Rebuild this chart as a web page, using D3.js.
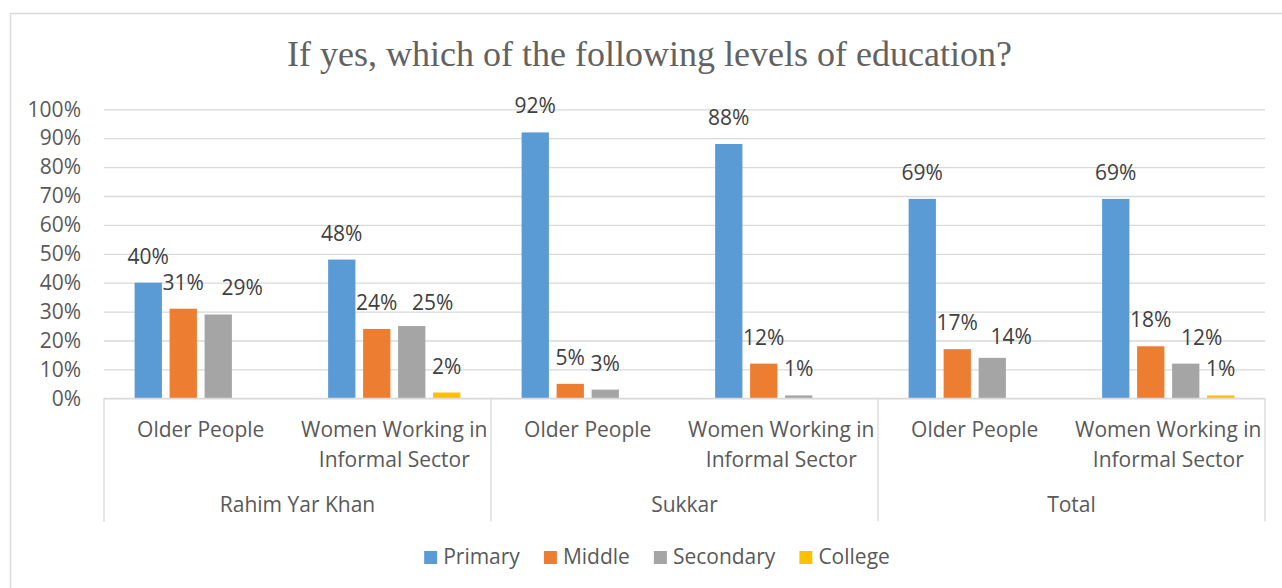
<!DOCTYPE html>
<html>
<head>
<meta charset="utf-8">
<script src="https://cdn.jsdelivr.net/npm/d3@7"></script>
<style>
  html, body { margin: 0; padding: 0; background: #ffffff; }
  svg { display: block; }
</style>
</head>
<body>
<svg id="chart" width="1282" height="588"></svg>
<script>
// ---- data ----
const groups = ["Rahim Yar Khan", "Sukkar", "Total"];
const subgroups = ["Older People", "Women Working in Informal Sector"];
const seriesNames = ["Primary", "Middle", "Secondary", "College"];
// one array per series, ordered group by group, subgroup by subgroup (null = no bar)
const primary   = [0.40, 0.48, 0.92, 0.88, 0.69, 0.69];
const middle    = [0.31, 0.24, 0.05, 0.12, 0.17, 0.18];
const secondary = [0.29, 0.25, 0.03, 0.01, 0.14, 0.12];
const college   = [null, 0.02, null, null, null, 0.01];
const yTicks = [0, 0.1, 0.2, 0.3, 0.4, 0.5, 0.6, 0.7, 0.8, 0.9, 1.0];

const seriesValues = [primary, middle, secondary, college];
const colors = ["#5B9BD5", "#ED7D31", "#A5A5A5", "#FFC000"];

// label nudges where neighbouring labels would collide: [series, cell, dx, dy]
const labelNudges = [[2, 0, 24, 0], [2, 1, 21, 3], [2, 4, 19, 5], [2, 5, 16, 0]];

// ---- layout ----
const svg = d3.select("#chart");
const plotLeft = 104, plotRight = 1265, plotTop = 109.3, plotBottom = 398.3;
const textColor = "#595959";
const labelColor = "#404040";
const font = "'Open Sans', sans-serif";
const fontSize = 21;

// outer chart frame
svg.append("rect")
  .attr("x", 10.5).attr("y", 13.5)
  .attr("width", 1300).attr("height", 600)
  .attr("fill", "none").attr("stroke", "#D9D9D9").attr("stroke-width", 1.5);

// title
svg.append("text")
  .attr("x", 649.5).attr("y", 66)
  .attr("text-anchor", "middle")
  .attr("font-family", "'Liberation Serif', serif")
  .attr("font-size", 36)
  .attr("fill", "#626262")
  .text("If yes, which of the following levels of education?");

// cells = group x subgroup
const cells = [];
groups.forEach(g => subgroups.forEach(s => cells.push(g + "|" + s)));

const x0 = d3.scaleBand().domain(cells).range([plotLeft, plotRight]).padding(0);
const xg = d3.scaleBand().domain(groups).range([plotLeft, plotRight]).padding(0);
const x1 = d3.scaleBand().domain(seriesNames).range([0, x0.bandwidth()])
  .paddingInner(0.22).paddingOuter(0.875);
const y = d3.scaleLinear().domain([0, 1]).range([plotBottom, plotTop]);

// y axis with gridlines
const yAxis = d3.axisLeft(y)
  .tickValues(yTicks)
  .tickFormat(d3.format(".0%"))
  .tickSize(-(plotRight - plotLeft))
  .tickPadding(23);

const gy = svg.append("g").attr("transform", `translate(${plotLeft},0)`).call(yAxis);
gy.select(".domain").remove();
gy.selectAll(".tick line").attr("stroke", "#D9D9D9").attr("stroke-width", 1.3);
gy.selectAll(".tick text")
  .attr("font-family", font).attr("font-size", fontSize).attr("fill", textColor);

// bars and value labels
seriesNames.forEach((name, si) => {
  const vals = seriesValues[si];
  const data = cells.map((c, ci) => ({ cell: c, ci: ci, v: vals[ci] })).filter(d => d.v != null);
  svg.append("g").selectAll("rect")
    .data(data).join("rect")
    .attr("x", d => x0(d.cell) + x1(name))
    .attr("y", d => y(d.v))
    .attr("width", x1.bandwidth())
    .attr("height", d => y(0) - y(d.v))
    .attr("fill", colors[si]);

  svg.append("g").selectAll("text")
    .data(data).join("text")
    .attr("x", d => {
      const n = labelNudges.find(k => k[0] === si && k[1] === d.ci);
      return x0(d.cell) + x1(name) + x1.bandwidth() / 2 + (n ? n[2] : 0);
    })
    .attr("y", d => {
      const n = labelNudges.find(k => k[0] === si && k[1] === d.ci);
      return y(d.v) - 19 + (n ? n[3] : 0);
    })
    .attr("text-anchor", "middle")
    .attr("font-family", font).attr("font-size", fontSize)
    .attr("fill", labelColor)
    .text(d => d3.format(".0%")(d.v));
});

// category axis: baseline and group separators
svg.append("line")
  .attr("x1", plotLeft).attr("x2", plotRight).attr("y1", plotBottom).attr("y2", plotBottom)
  .attr("stroke", "#D9D9D9").attr("stroke-width", 1.3);

const seps = groups.map(g => xg(g)).concat([plotRight]);
svg.append("g").selectAll("line")
  .data(seps).join("line")
  .attr("x1", d => d).attr("x2", d => d)
  .attr("y1", plotBottom).attr("y2", 521.5)
  .attr("stroke", "#D9D9D9").attr("stroke-width", 1.3);

// subgroup labels, wrapped to fit the band
function wrapLines(text, maxWidth, measure) {
  const words = text.split(" ");
  const lines = [];
  let line = "";
  words.forEach(w => {
    const trial = line ? line + " " + w : w;
    if (line && measure(trial) > maxWidth) { lines.push(line); line = w; }
    else line = trial;
  });
  if (line) lines.push(line);
  return lines;
}
const probe = svg.append("text").attr("font-family", font).attr("font-size", fontSize)
  .attr("visibility", "hidden");
const measure = s => { probe.text(s); return probe.node().getComputedTextLength(); };

cells.forEach(c => {
  const label = c.split("|")[1];
  const lines = wrapLines(label, 215, measure);
  const t = svg.append("text")
    .attr("text-anchor", "middle")
    .attr("font-family", font).attr("font-size", fontSize)
    .attr("fill", textColor);
  lines.forEach((ln, i) => {
    t.append("tspan")
      .attr("x", x0(c) + x0.bandwidth() / 2)
      .attr("y", 436.7 + i * 30)
      .text(ln);
  });
});
probe.remove();

// group labels
svg.append("g").selectAll("text")
  .data(groups).join("text")
  .attr("x", d => xg(d) + xg.bandwidth() / 2)
  .attr("y", 511.7)
  .attr("text-anchor", "middle")
  .attr("font-family", font).attr("font-size", fontSize)
  .attr("fill", textColor)
  .text(d => d);

// legend
const legend = svg.append("g");
let lx = 0;
seriesNames.forEach((name, i) => {
  const g = legend.append("g").attr("transform", `translate(${lx},0)`);
  g.append("rect").attr("x", 0).attr("y", 551).attr("width", 13).attr("height", 13)
    .attr("fill", colors[i]);
  const t = g.append("text").attr("x", 19).attr("y", 564)
    .attr("font-family", font).attr("font-size", fontSize).attr("fill", textColor)
    .text(name);
  const w = 19 + t.node().getComputedTextLength();
  lx += w + 24;
});
const totalW = lx - 24;
legend.attr("transform", `translate(${657 - totalW / 2},0)`);
</script>
</body>
</html>
